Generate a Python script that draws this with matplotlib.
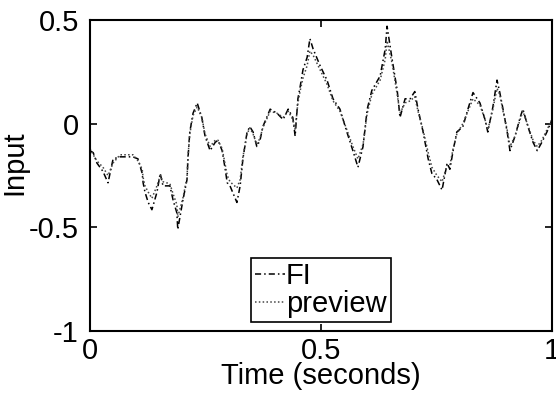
import matplotlib
matplotlib.use("Agg")
import matplotlib.pyplot as plt

plt.rcParams['font.family'] = ['Liberation Sans', 'DejaVu Sans']
plt.rcParams['axes.unicode_minus'] = False

# time samples (seconds)
t = [0, 0.007, 0.015, 0.028, 0.039, 0.05, 0.065, 0.08, 0.093, 0.104,
     0.113, 0.115, 0.119, 0.126, 0.134, 0.145, 0.152, 0.158, 0.173, 0.18,
     0.188, 0.19, 0.201, 0.21, 0.212, 0.216, 0.223, 0.232, 0.242, 0.249,
     0.26, 0.271, 0.277, 0.286, 0.292, 0.297, 0.303, 0.318, 0.325, 0.331,
     0.34, 0.346, 0.353, 0.361, 0.368, 0.374, 0.39, 0.405, 0.418, 0.429,
     0.439, 0.444, 0.45, 0.455, 0.461, 0.47, 0.476, 0.483, 0.498, 0.513,
     0.526, 0.541, 0.556, 0.569, 0.58, 0.591, 0.6, 0.61, 0.628, 0.639,
     0.643, 0.654, 0.665, 0.671, 0.682, 0.693, 0.703, 0.71, 0.721, 0.732,
     0.74, 0.751, 0.762, 0.773, 0.779, 0.786, 0.794, 0.807, 0.818, 0.829,
     0.844, 0.855, 0.861, 0.872, 0.881, 0.887, 0.894, 0.903, 0.909, 0.92,
     0.931, 0.937, 0.948, 0.959, 0.968, 0.978, 0.989, 1.0]

fi = [-0.13, -0.14, -0.19, -0.23, -0.285, -0.17, -0.16, -0.16, -0.16, -0.17,
      -0.24, -0.285, -0.33, -0.38, -0.415, -0.33, -0.24, -0.30, -0.30, -0.37,
      -0.43, -0.51, -0.37, -0.27, -0.17, -0.04, 0.05, 0.10, 0.03, -0.06,
      -0.13, -0.09, -0.08, -0.13, -0.21, -0.285, -0.30, -0.38, -0.30, -0.17,
      -0.04, -0.015, -0.04, -0.11, -0.08, -0.015, 0.07, 0.05, 0.02, 0.07,
      0.03, -0.06, 0.12, 0.18, 0.26, 0.32, 0.41, 0.36, 0.28, 0.21,
      0.12, 0.07, -0.04, -0.13, -0.21, -0.11, 0.07, 0.16, 0.23, 0.36,
      0.47, 0.31, 0.16, 0.03, 0.12, 0.12, 0.155, 0.07, -0.04, -0.17,
      -0.24, -0.27, -0.32, -0.19, -0.22, -0.13, -0.04, -0.015, 0.07, 0.15,
      0.10, 0.02, -0.04, 0.08, 0.21, 0.15, 0.07, -0.04, -0.13, -0.06,
      0.03, 0.07, -0.015, -0.09, -0.13, -0.09, -0.04, 0.02]

preview = [-0.12, -0.15, -0.18, -0.21, -0.25, -0.19, -0.15, -0.15, -0.15, -0.18,
           -0.22, -0.26, -0.30, -0.33, -0.36, -0.30, -0.25, -0.28, -0.29, -0.34,
           -0.39, -0.45, -0.36, -0.26, -0.16, -0.05, 0.04, 0.08, 0.03, -0.05,
           -0.11, -0.08, -0.08, -0.12, -0.19, -0.25, -0.28, -0.31, -0.27, -0.16,
           -0.05, -0.02, -0.05, -0.10, -0.07, -0.02, 0.06, 0.05, 0.03, 0.06,
           0.02, -0.03, 0.10, 0.16, 0.22, 0.28, 0.35, 0.33, 0.26, 0.19,
           0.11, 0.06, -0.03, -0.11, -0.17, -0.10, 0.05, 0.14, 0.21, 0.31,
           0.40, 0.29, 0.14, 0.05, 0.10, 0.11, 0.13, 0.06, -0.03, -0.14,
           -0.21, -0.25, -0.28, -0.20, -0.20, -0.12, -0.05, 0.0, 0.06, 0.12,
           0.09, 0.02, -0.03, 0.07, 0.17, 0.14, 0.06, -0.03, -0.11, -0.06,
           0.02, 0.06, -0.01, -0.08, -0.11, -0.08, -0.03, 0.02]

fig = plt.figure(figsize=(5.56, 3.98), dpi=100)
ax = fig.add_axes([90 / 556, 1 - 331 / 398, 462 / 556, 311 / 398])

ax.plot(t, fi, color='black', linestyle=(0, (4, 2, 1, 2)), linewidth=1.1, label='FI')
ax.plot(t, preview, color='#444444', linestyle=(0, (1, 1.5)), linewidth=1.1, label='preview')

ax.set_xlim(0, 1)
ax.set_ylim(-1, 0.5)
ax.set_xticks([0, 0.5, 1])
ax.set_xticklabels(['0', '0.5', '1'])
ax.set_yticks([-1, -0.5, 0, 0.5])
ax.set_yticklabels(['-1', '-0.5', '0', '0.5'])
ax.tick_params(direction='in', length=5, width=1.2, labelsize=21,
               top=True, right=True)
ax.tick_params(axis='x', pad=4)
ax.tick_params(axis='y', pad=8)
for s in ax.spines.values():
    s.set_linewidth(1.5)

ax.set_xlabel('Time (seconds)', fontsize=21)
ax.xaxis.set_label_coords(0.5, -0.10)
ax.set_ylabel('Input', fontsize=21)
ax.yaxis.set_label_coords(-0.134, 0.54)

leg = ax.legend(loc='lower center', bbox_to_anchor=(0.5, 0.0), fontsize=21,
                handlelength=1.0, handletextpad=0.05, borderpad=0.15,
                labelspacing=0.0, borderaxespad=0.3, fancybox=False,
                framealpha=1)
leg.get_frame().set_edgecolor('black')
leg.get_frame().set_linewidth(1.2)

fig.savefig('out.png', dpi=100)
